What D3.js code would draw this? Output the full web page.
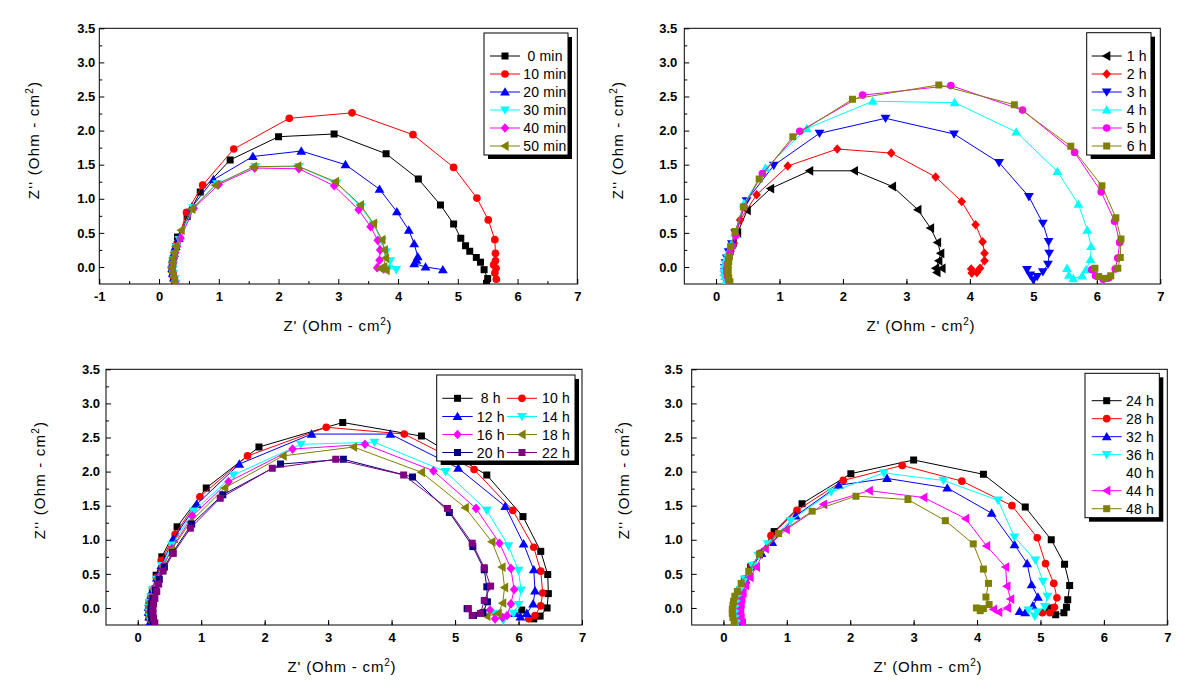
<!DOCTYPE html>
<html><head><meta charset="utf-8">
<script src="https://cdn.jsdelivr.net/npm/d3@7"></script>
<style>
body{margin:0;background:#fff;}
svg{display:block;}
text{font-family:"Liberation Sans",Arial,sans-serif;fill:#000;}
</style>
</head><body>
<svg id="c" width="1194" height="690"></svg>
<script>
// ---------------- tick labels ----------------
const xTicksP1 = [-1, 0, 1, 2, 3, 4, 5, 6, 7];
const xTicksP = [0, 1, 2, 3, 4, 5, 6, 7];
const yTicks = [0.0, 0.5, 1.0, 1.5, 2.0, 2.5, 3.0, 3.5];

// ---------------- panel 1 (minutes) ----------------
const p1Names = [" 0 min", "10 min", "20 min", "30 min", "40 min", "50 min"];
const p1_0min = [[0.26,-0.23],[0.24,-0.16],[0.23,-0.09],[0.22,-0.02],[0.23,0.05],[0.24,0.12],[0.26,0.2],[0.28,0.3],[0.31,0.44],[0.47,0.74],[0.69,1.10],[1.19,1.57],[2.00,1.91],[2.93,1.95],[3.80,1.66],[4.34,1.29],[4.71,0.91],[4.93,0.63],[5.05,0.42],[5.13,0.31],[5.20,0.23],[5.31,0.14],[5.38,0.07],[5.44,-0.04],[5.50,-0.17],[5.48,-0.24]];
const p1_10min = [[0.27,-0.22],[0.25,-0.15],[0.23,-0.08],[0.22,-0.01],[0.23,0.06],[0.25,0.14],[0.27,0.23],[0.3,0.34],[0.46,0.80],[0.73,1.20],[1.25,1.73],[2.18,2.18],[3.23,2.26],[4.25,1.94],[4.93,1.46],[5.32,1.01],[5.51,0.69],[5.62,0.40],[5.63,0.20],[5.63,0.09],[5.60,0.03],[5.64,-0.02],[5.62,-0.09],[5.645,-0.18]];
const p1_20min = [[0.27,-0.23],[0.25,-0.16],[0.23,-0.09],[0.22,-0.02],[0.22,0.05],[0.23,0.12],[0.25,0.2],[0.28,0.3],[0.33,0.42],[0.55,0.88],[0.91,1.28],[1.57,1.62],[2.38,1.70],[3.12,1.50],[3.69,1.14],[3.98,0.81],[4.18,0.54],[4.27,0.34],[4.33,0.15],[4.31,0.10],[4.27,0.05],[4.46,0.0],[4.75,-0.04]];
const p1_30min = [[0.28,-0.24],[0.26,-0.17],[0.24,-0.1],[0.23,-0.03],[0.23,0.04],[0.24,0.11],[0.26,0.19],[0.29,0.29],[0.34,0.4],[0.57,0.87],[0.97,1.22],[1.61,1.47],[2.34,1.47],[2.97,1.23],[3.38,0.88],[3.59,0.62],[3.73,0.38],[3.80,0.22],[3.87,0.09],[3.84,-0.02],[3.97,-0.04]];
const p1_40min = [[0.27,-0.22],[0.25,-0.15],[0.23,-0.08],[0.22,-0.01],[0.23,0.06],[0.25,0.13],[0.27,0.21],[0.3,0.3],[0.36,0.42],[0.58,0.86],[1.00,1.21],[1.60,1.45],[2.34,1.44],[2.93,1.19],[3.34,0.84],[3.54,0.59],[3.66,0.39],[3.70,0.25],[3.69,0.10],[3.65,-0.01],[3.76,-0.03]];
const p1_50min = [[0.26,-0.22],[0.24,-0.15],[0.22,-0.08],[0.21,-0.01],[0.22,0.06],[0.23,0.13],[0.25,0.21],[0.28,0.3],[0.37,0.54],[0.55,0.85],[0.94,1.20],[1.58,1.47],[2.32,1.48],[2.95,1.25],[3.37,0.91],[3.59,0.64],[3.73,0.40],[3.77,0.25],[3.79,0.13],[3.76,0.0],[3.70,-0.02],[3.80,-0.05]];

// ---------------- panel 2 (1-6 h) ----------------
const p2Names = ["1 h", "2 h", "3 h", "4 h", "5 h", "6 h"];
const p2_1h = [[0.18,-0.2],[0.16,-0.14],[0.15,-0.08],[0.15,-0.02],[0.16,0.04],[0.17,0.1],[0.19,0.17],[0.22,0.25],[0.27,0.36],[0.34,0.5],[0.49,0.83],[0.86,1.15],[1.475,1.41],[2.18,1.41],[2.78,1.18],[3.18,0.84],[3.38,0.57],[3.49,0.36],[3.54,0.20],[3.51,0.09],[3.46,-0.02],[3.56,-0.02],[3.48,-0.08]];
const p2_2h = [[0.2,-0.18],[0.18,-0.12],[0.17,-0.06],[0.17,0.0],[0.18,0.07],[0.2,0.14],[0.23,0.23],[0.28,0.35],[0.38,0.69],[0.64,1.06],[1.13,1.48],[1.91,1.73],[2.76,1.67],[3.46,1.32],[3.87,0.96],[4.09,0.62],[4.20,0.37],[4.23,0.20],[4.23,0.09],[4.16,-0.02],[4.11,-0.08],[4.02,-0.03],[4.03,-0.09]];
const p2_3h = [[0.17,-0.2],[0.15,-0.13],[0.14,-0.07],[0.14,-0.01],[0.15,0.06],[0.17,0.13],[0.2,0.22],[0.25,0.34],[0.3,0.5],[0.48,0.97],[0.91,1.49],[1.63,1.96],[2.67,2.18],[3.75,1.95],[4.46,1.53],[4.93,1.03],[5.15,0.64],[5.24,0.37],[5.25,0.20],[5.23,0.04],[5.15,-0.07],[5.06,-0.14],[5.00,-0.19],[4.95,-0.12],[4.90,-0.04]];
const p2_4h = [[0.16,-0.2],[0.14,-0.14],[0.13,-0.08],[0.13,-0.02],[0.14,0.05],[0.16,0.12],[0.19,0.21],[0.24,0.33],[0.3,0.5],[0.44,0.93],[0.78,1.45],[1.43,2.03],[2.47,2.43],[3.76,2.41],[4.73,1.98],[5.38,1.40],[5.71,0.92],[5.85,0.54],[5.91,0.30],[5.90,0.11],[5.83,-0.04],[5.77,-0.13],[5.63,-0.17],[5.56,-0.12],[5.53,-0.02]];
const p2_5h = [[0.2,-0.2],[0.18,-0.14],[0.17,-0.08],[0.17,-0.02],[0.18,0.05],[0.2,0.12],[0.22,0.2],[0.26,0.3],[0.31,0.46],[0.44,0.88],[0.73,1.37],[1.32,1.99],[2.31,2.52],[3.70,2.66],[4.83,2.30],[5.65,1.68],[6.07,1.10],[6.28,0.67],[6.36,0.36],[6.33,0.13],[6.29,-0.03],[6.19,-0.16],[6.10,-0.18],[5.98,-0.13],[5.92,-0.04]];
const p2_6h = [[0.22,-0.22],[0.2,-0.16],[0.19,-0.1],[0.19,-0.04],[0.19,0.02],[0.2,0.08],[0.21,0.15],[0.23,0.3],[0.3,0.52],[0.43,0.88],[0.68,1.29],[1.21,1.91],[2.15,2.46],[3.51,2.67],[4.70,2.38],[5.59,1.77],[6.08,1.19],[6.30,0.72],[6.38,0.41],[6.37,0.14],[6.33,-0.02],[6.22,-0.13],[6.13,-0.17],[6.03,-0.14],[5.97,-0.02]];

// ---------------- panel 3 (8-22 h) ----------------
const p3Names = [" 8 h", "10 h", "12 h", "14 h", "16 h", "18 h", "20 h", "22 h"];
const p3_8h = [[0.2,-0.2],[0.18,-0.13],[0.17,-0.06],[0.17,0.01],[0.18,0.08],[0.2,0.16],[0.23,0.26],[0.29,0.48],[0.38,0.75],[0.62,1.19],[1.08,1.76],[1.91,2.36],[3.23,2.72],[4.47,2.52],[5.50,1.95],[6.07,1.34],[6.35,0.83],[6.46,0.49],[6.47,0.21],[6.45,0.0],[6.34,-0.12],[6.24,-0.16],[6.05,-0.03]];
const p3_10h = [[0.21,-0.19],[0.19,-0.12],[0.18,-0.05],[0.18,0.02],[0.19,0.09],[0.21,0.17],[0.25,0.28],[0.3,0.45],[0.37,0.70],[0.59,1.08],[0.98,1.63],[1.73,2.23],[2.97,2.65],[4.20,2.55],[5.30,2.03],[5.91,1.43],[6.24,0.89],[6.35,0.54],[6.38,0.22],[6.35,0.03],[6.26,-0.11],[6.16,-0.16]];
const p3_12h = [[0.2,-0.2],[0.18,-0.13],[0.17,-0.06],[0.17,0.01],[0.18,0.08],[0.2,0.16],[0.24,0.27],[0.3,0.44],[0.37,0.62],[0.56,1.01],[0.93,1.52],[1.60,2.11],[2.74,2.55],[3.98,2.55],[5.05,2.05],[5.79,1.49],[6.08,0.94],[6.24,0.56],[6.26,0.25],[6.23,0.06],[6.13,-0.08],[6.03,-0.13],[5.95,-0.08]];
const p3_14h = [[0.21,-0.2],[0.19,-0.13],[0.18,-0.06],[0.18,0.01],[0.19,0.08],[0.21,0.16],[0.24,0.26],[0.3,0.42],[0.38,0.62],[0.54,0.92],[0.88,1.42],[1.51,1.95],[2.57,2.40],[3.73,2.43],[4.85,2.00],[5.50,1.43],[5.84,0.91],[6.00,0.55],[6.04,0.26],[6.00,0.05],[5.92,-0.08],[5.76,-0.18],[5.63,-0.08]];
const p3_16h = [[0.22,-0.19],[0.2,-0.12],[0.19,-0.05],[0.19,0.02],[0.2,0.09],[0.22,0.17],[0.26,0.28],[0.32,0.44],[0.4,0.62],[0.54,0.87],[0.86,1.35],[1.43,1.85],[2.44,2.33],[3.58,2.40],[4.66,2.01],[5.33,1.46],[5.70,0.95],[5.88,0.58],[5.93,0.27],[5.88,0.06],[5.82,-0.11],[5.75,-0.14],[5.63,-0.16],[5.55,-0.03]];
const p3_18h = [[0.21,-0.2],[0.19,-0.13],[0.18,-0.06],[0.18,0.01],[0.19,0.08],[0.21,0.16],[0.25,0.27],[0.31,0.43],[0.4,0.6],[0.53,0.85],[0.83,1.26],[1.37,1.76],[2.29,2.23],[3.40,2.36],[4.47,1.99],[5.16,1.47],[5.58,0.97],[5.74,0.60],[5.78,0.30],[5.75,0.07],[5.68,-0.08],[5.50,-0.12],[5.42,-0.06]];
const p3_20h = [[0.24,-0.22],[0.22,-0.15],[0.21,-0.08],[0.21,-0.01],[0.22,0.06],[0.24,0.14],[0.28,0.26],[0.34,0.42],[0.42,0.6],[0.55,0.81],[0.85,1.23],[1.34,1.66],[2.25,2.11],[3.24,2.18],[4.33,1.92],[4.91,1.40],[5.28,0.90],[5.46,0.56],[5.50,0.31],[5.51,0.09],[5.44,-0.07],[5.29,-0.11],[5.19,-0.01]];
const p3_22h = [[0.27,-0.22],[0.25,-0.15],[0.24,-0.08],[0.24,-0.01],[0.25,0.06],[0.27,0.14],[0.3,0.24],[0.33,0.35],[0.40,0.54],[0.56,0.80],[0.83,1.17],[1.30,1.61],[2.12,2.05],[3.12,2.18],[4.19,1.95],[4.88,1.46],[5.27,0.95],[5.46,0.59],[5.56,0.32],[5.46,0.11],[5.40,-0.08],[5.27,-0.11],[5.21,-0.01]];

// ---------------- panel 4 (24-48 h) ----------------
const p4Names = ["24 h", "28 h", "32 h", "36 h", "40 h", "44 h", "48 h"];
const p4_24h = [[0.22,-0.2],[0.2,-0.13],[0.19,-0.06],[0.19,0.01],[0.2,0.08],[0.22,0.16],[0.26,0.27],[0.33,0.42],[0.43,0.6],[0.57,0.78],[0.80,1.12],[1.24,1.53],[2.01,1.97],[3.00,2.17],[4.10,1.96],[4.76,1.48],[5.17,1.00],[5.38,0.64],[5.46,0.33],[5.43,0.12],[5.41,0.01],[5.37,-0.07],[5.24,-0.10],[5.13,0.0]];
const p4_28h = [[0.23,-0.2],[0.21,-0.13],[0.2,-0.06],[0.2,0.01],[0.21,0.08],[0.23,0.16],[0.27,0.27],[0.34,0.42],[0.45,0.62],[0.58,0.8],[0.75,1.06],[1.16,1.43],[1.89,1.87],[2.82,2.09],[3.76,1.86],[4.55,1.50],[4.95,1.03],[5.08,0.65],[5.21,0.36],[5.26,0.15],[5.22,0.01],[5.15,-0.07],[5.03,-0.07]];
const p4_32h = [[0.24,-0.21],[0.22,-0.14],[0.21,-0.07],[0.21,0.0],[0.22,0.07],[0.24,0.15],[0.28,0.26],[0.35,0.41],[0.47,0.62],[0.6,0.8],[0.77,0.96],[1.14,1.35],[1.82,1.80],[2.58,1.90],[3.53,1.76],[4.23,1.39],[4.59,0.93],[4.79,0.65],[4.86,0.34],[4.96,0.16],[4.88,0.03],[4.76,-0.07],[4.67,-0.05]];
const p4_36h = [[0.23,-0.2],[0.21,-0.13],[0.2,-0.06],[0.2,0.01],[0.21,0.08],[0.23,0.16],[0.27,0.27],[0.34,0.42],[0.46,0.62],[0.55,0.77],[0.70,0.94],[1.06,1.28],[1.70,1.70],[2.53,1.98],[3.47,1.87],[4.33,1.58],[4.59,1.04],[4.92,0.70],[5.04,0.39],[5.11,0.17],[5.07,0.02],[4.95,-0.06],[4.91,-0.12],[4.81,-0.03]];
const p4_40h = [];
const p4_44h = [[0.30,-0.22],[0.28,-0.15],[0.27,-0.08],[0.27,-0.01],[0.28,0.06],[0.29,0.14],[0.31,0.22],[0.35,0.33],[0.42,0.45],[0.52,0.6],[0.66,0.87],[0.99,1.15],[1.58,1.52],[2.30,1.72],[3.16,1.62],[3.82,1.31],[4.15,0.91],[4.45,0.60],[4.47,0.32],[4.53,0.13],[4.48,0.0],[4.34,-0.06],[4.26,-0.02]];
const p4_48h = [[0.17,-0.2],[0.15,-0.14],[0.14,-0.08],[0.14,-0.02],[0.15,0.04],[0.16,0.1],[0.18,0.17],[0.22,0.24],[0.28,0.36],[0.40,0.54],[0.57,0.79],[0.87,1.09],[1.40,1.42],[2.09,1.64],[2.91,1.59],[3.50,1.28],[3.94,0.94],[4.10,0.57],[4.18,0.36],[4.14,0.16],[4.19,0.05],[4.10,-0.01],[4.05,-0.04],[3.99,0.0]];

// ---------------- styles ----------------
const p1Colors = ["#000000", "#ff0000", "#0000ff", "#00ffff", "#ff00ff", "#808000"];
const p1Symbols = ["square", "circle", "triUp", "triDown", "diamond", "triLeft"];
const p2Colors = ["#000000", "#ff0000", "#0000ff", "#00ffff", "#ff00ff", "#808000"];
const p2Symbols = ["triLeft", "diamond", "triDown", "triUp", "circle", "square"];
const p3Colors = ["#000000", "#ff0000", "#0000ff", "#00ffff", "#ff00ff", "#808000", "#000080", "#800080"];
const p3Symbols = ["square", "circle", "triUp", "triDown", "diamond", "triLeft", "square", "square"];
const p4Colors = ["#000000", "#ff0000", "#0000ff", "#00ffff", "none", "#ff00ff", "#808000"];
const p4Symbols = ["square", "circle", "triUp", "triDown", "none", "triLeft", "square"];

const SYM = {
  square: "M-3.5,-3.5H3.5V3.5H-3.5Z",
  circle: d3.symbol(d3.symbolCircle, 46)(),
  triUp: "M0,-4.8L4.9,3.6L-4.9,3.6Z",
  triDown: "M0,4.8L4.9,-3.6L-4.9,-3.6Z",
  triLeft: "M-4.8,0L3.6,-4.9L3.6,4.9Z",
  diamond: "M0,-4.8L4.3,0L0,4.8L-4.3,0Z",
  none: ""
};

const FONT = '"Liberation Sans",Arial,sans-serif';
const svg = d3.select("#c");
const yDomain = [-0.25, 3.5];

const panels = [
  { id: 1, left: 99.3, right: 577.3, top: 28.3, bottom: 284, xDomain: [-1, 7], xTicks: xTicksP1,
    yGap: 4, xTitle: [338, 331], yTitle: [38.5, 140],
    names: p1Names, data: [p1_0min, p1_10min, p1_20min, p1_30min, p1_40min, p1_50min],
    colors: p1Colors, symbols: p1Symbols,
    legend: { box: [484, 33, 84, 122], rows: [56, 74, 92, 110, 128, 146], cols: [[490, 520, 523.3]] } },
  { id: 2, left: 684.3, right: 1160.3, top: 28.3, bottom: 284, xDomain: [-0.5, 7], xTicks: xTicksP,
    yGap: 7, xTitle: [921, 331], yTitle: [623, 140],
    names: p2Names, data: [p2_1h, p2_2h, p2_3h, p2_4h, p2_5h, p2_6h],
    colors: p2Colors, symbols: p2Symbols,
    legend: { box: [1086.7, 32.7, 64.3, 122.3], rows: [56, 74, 92, 110, 128, 146], cols: [[1091.7, 1121.7, 1126.7]] } },
  { id: 3, left: 106, right: 582, top: 369.3, bottom: 625, xDomain: [-0.5, 7], xTicks: xTicksP,
    yGap: 6, xTitle: [342, 672], yTitle: [45, 480],
    names: p3Names, data: [p3_8h, p3_10h, p3_12h, p3_14h, p3_16h, p3_18h, p3_20h, p3_22h],
    colors: p3Colors, symbols: p3Symbols,
    legend: { box: [436.7, 375, 138.3, 86], rows: [398.3, 416.5, 434.5, 452.5], cols: [[442.3, 472.7, 476.7], [507, 537, 542]], rowMajor: true } },
  { id: 4, left: 691.7, right: 1167.3, top: 369.3, bottom: 625, xDomain: [-0.5, 7], xTicks: xTicksP,
    yGap: 9, xTitle: [928, 672], yTitle: [629, 480],
    names: p4Names, data: [p4_24h, p4_28h, p4_32h, p4_36h, p4_40h, p4_44h, p4_48h],
    colors: p4Colors, symbols: p4Symbols,
    legend: { box: [1085, 373.3, 74.3, 144.4], rows: [400.7, 418.7, 436.7, 454.7, 472.7, 490.7, 508.7], cols: [[1091.7, 1121.7, 1126]] } }
];

function drawPanel(p) {
  const x = d3.scaleLinear().domain(p.xDomain).range([p.left, p.right]);
  const y = d3.scaleLinear().domain(yDomain).range([p.bottom, p.top]);
  const g = svg.append("g");

  const xMinor = d3.range(p.xDomain[0] + 0.5, p.xDomain[1], 1).filter(v => v > p.xDomain[0]);
  const yMinor = d3.range(0.25, 3.5, 0.5);

  g.append("g").attr("transform", `translate(0,${p.bottom})`)
    .call(d3.axisBottom(x).tickValues(xMinor).tickSize(-3).tickFormat(""))
    .call(s => s.select(".domain").remove());
  g.append("g").attr("transform", `translate(${p.left},0)`)
    .call(d3.axisLeft(y).tickValues(yMinor).tickSize(-3).tickFormat(""))
    .call(s => s.select(".domain").remove());

  const xa = g.append("g").attr("transform", `translate(0,${p.bottom})`)
    .call(d3.axisBottom(x).tickValues(p.xTicks).tickSize(-5).tickPadding(8).tickFormat(d => String(d)));
  xa.select(".domain").remove();
  xa.selectAll("text").attr("font-family", FONT).attr("font-size", 13).attr("font-weight", "bold").attr("fill", "#000");

  const ya = g.append("g").attr("transform", `translate(${p.left},0)`)
    .call(d3.axisLeft(y).tickValues(yTicks).tickSize(-5).tickPadding(p.yGap).tickFormat(d => d.toFixed(1)));
  ya.select(".domain").remove();
  ya.selectAll("text").attr("font-family", FONT).attr("font-size", 13).attr("font-weight", "bold").attr("fill", "#000");
  g.selectAll(".tick line").attr("stroke", "#000");

  g.append("rect").attr("x", p.left).attr("y", p.top)
    .attr("width", p.right - p.left).attr("height", p.bottom - p.top)
    .attr("fill", "none").attr("stroke", "#000").attr("stroke-width", 1);

  const cid = "clip" + p.id;
  svg.append("clipPath").attr("id", cid).append("rect")
    .attr("x", p.left).attr("y", p.top).attr("width", p.right - p.left).attr("height", p.bottom - p.top);
  const plot = g.append("g").attr("clip-path", `url(#${cid})`);
  const line = d3.line().x(d => x(d[0])).y(d => y(d[1]));

  p.data.forEach((ser, i) => {
    const col = p.colors[i];
    if (col === "none" || !ser.length) return;
    plot.append("path").attr("d", line(ser)).attr("fill", "none").attr("stroke", col).attr("stroke-width", 1);
    plot.selectAll(null).data(ser).enter().append("path")
      .attr("d", SYM[p.symbols[i]])
      .attr("transform", d => `translate(${x(d[0])},${y(d[1])})`)
      .attr("fill", col);
  });

  const xt = g.append("text").attr("x", p.xTitle[0]).attr("y", p.xTitle[1])
    .attr("text-anchor", "middle").attr("font-size", 15).attr("letter-spacing", 0.8);
  xt.append("tspan").text("Z' (Ohm - cm");
  xt.append("tspan").attr("font-size", 10).attr("dy", -6).text("2");
  xt.append("tspan").attr("dy", 6).text(")");

  const yt = g.append("text").attr("transform", `translate(${p.yTitle[0]},${p.yTitle[1]}) rotate(-90)`)
    .attr("text-anchor", "middle").attr("font-size", 15).attr("letter-spacing", 1.2);
  yt.append("tspan").text("Z'' (Ohm - cm");
  yt.append("tspan").attr("font-size", 10).attr("dy", -6).text("2");
  yt.append("tspan").attr("dy", 6).text(")");

  const L = p.legend;
  const lg = g.append("g");
  lg.append("rect").attr("x", L.box[0] + 4).attr("y", L.box[1] + 4).attr("width", L.box[2]).attr("height", L.box[3]).attr("fill", "#000");
  lg.append("rect").attr("x", L.box[0]).attr("y", L.box[1]).attr("width", L.box[2]).attr("height", L.box[3])
    .attr("fill", "#fff").attr("stroke", "#000").attr("stroke-width", 1);
  p.names.forEach((nm, i) => {
    let r, c;
    if (L.rowMajor) { r = Math.floor(i / L.cols.length); c = i % L.cols.length; }
    else { r = i; c = 0; }
    const [x0, x1, tx] = L.cols[c];
    const cy = L.rows[r];
    const col = p.colors[i];
    if (col !== "none") {
      lg.append("line").attr("x1", x0).attr("x2", x1).attr("y1", cy).attr("y2", cy).attr("stroke", col).attr("stroke-width", 1);
      lg.append("path").attr("d", SYM[p.symbols[i]]).attr("transform", `translate(${(x0 + x1) / 2},${cy})`).attr("fill", col);
    }
    lg.append("text").attr("x", tx).attr("y", cy + 5).attr("font-size", 14)
      .attr("letter-spacing", 0.2).style("white-space", "pre").text(nm);
  });
}

panels.forEach(drawPanel);
</script>
</body></html>
